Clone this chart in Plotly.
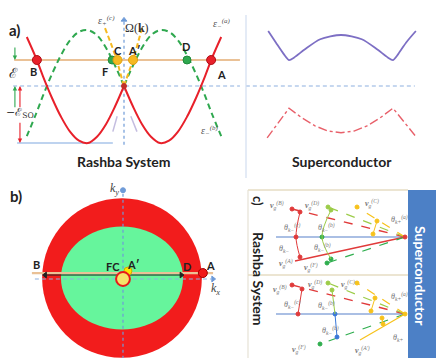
import plotly.graph_objects as go

W, H = 436, 358


def px(x):
    return x / W


def py(y):
    return 1 - y / H


# ---------------- a) Rashba bands (k in units of k0, energy in units of eps_SO) ----------------
K_HALF = [0, 0.25, 0.5, 0.75, 1.0, 1.25, 1.5, 1.75, 2.0, 2.25, 2.45, 2.7]
E_OUTER = [0, -0.36, -0.67, -0.89, -1.0, -0.96, -0.80, -0.54, -0.21, 0.17, 0.50, 0.86]
E_INNER = [0, 0.36, 0.67, 0.89, 0.98, 0.95, 0.80, 0.54, 0.21, -0.17, -0.50, -0.88]
K_C_LEFT = [0, -0.1, -0.2, -0.36, -0.53]
K_C_RIGHT = [0, 0.12, 0.25, 0.38, 0.5]
E_C = [0, 0.22, 0.456, 0.74, 1.02]
K_GHOST_L = [-0.19, -0.31]
K_GHOST_R = [0.19, 0.36]
E_GHOST = [-0.53, -0.80]
E_F = 0.456
E_SO = 1.0

FERMI_LABELS = ["B", "F", "C", "A′", "D", "A"]
FERMI_K = [-2.42, -0.33, -0.18, 0.25, 1.75, 2.42]
FERMI_COLORS = ["#e8202a", "#2fa84f", "#f6b921", "#f6b921", "#2fa84f", "#e8202a"]

# ---------------- superconductor quasiparticle branches ----------------
Q_SC = [-1.40, -1.25, -1.10, -1.0, -0.9, -0.7, -0.4, 0, 0.4, 0.7, 0.9, 1.0, 1.10, 1.25, 1.44]
E_SC_E = [0.965, 0.76, 0.56, 0.456, 0.50, 0.64, 0.82, 0.895, 0.82, 0.64, 0.50, 0.456, 0.56, 0.76, 0.965]
Q_SC_H = [-1.42, -1.0, -0.75, -0.5, -0.25, 0, 0.25, 0.5, 0.75, 1.0, 1.46]
E_SC_H = [-0.91, -0.39, -0.56, -0.70, -0.79, -0.82, -0.79, -0.70, -0.56, -0.39, -0.91]

# ---------------- b) Fermi contours ----------------
K_OUT = 2.42
K_IN_X, K_IN_Y = 1.85, 1.56
K_SMALL = 0.21
KY_LINE = 0.15

# ---------------- c) group velocities at the interface ----------------
ROW_V = [0, -77]  # vertical position of the two interface points
RAYS_UP = [  # (end u, end v, colour, dash, width)
    (-129, 0, "#8eaadb", "solid", 1.6),
    (-113, 28, "#e03a3a", "dash", 1.4),
    (-110, -24, "#e03a3a", "solid", 1.4),
    (-77, 30, "#9ccc48", "dash", 1.2),
    (-78, -26, "#2fae4e", "dash", 1.2),
    (-48, 30, "#f7c21b", "dash", 1.2),
]
RAYS_LOW = [
    (-129, 0, "#8eaadb", "solid", 1.6),
    (-113, 29, "#e03a3a", "dash", 1.4),
    (-77, 31, "#9ccc48", "dash", 1.2),
    (-48, 31, "#f7c21b", "dash", 1.2),
    (-85, -30, "#2fae4e", "dash", 1.2),
    (-45, -26, "#f7c21b", "solid", 1.2),
]
DOTS_UP = [
    (-113, 28, "#e03a3a"), (-105, 25, "#e03a3a"), (-109, 0, "#e03a3a"), (-105, -20, "#e03a3a"),
    (-77, 30, "#9ccc48"), (-74, 27, "#9ccc48"), (-83, 0, "#2fae4e"), (-78, -26, "#2fae4e"),
    (-74, -22, "#2fae4e"), (-48, 30, "#f7c21b"), (-28, 16, "#f7c21b"), (-32, 3, "#f7c21b"),
    (0, 0, "#e03a3a"),
]
DOTS_LOW = [
    (-113, 29, "#e03a3a"), (-103, 25, "#e03a3a"), (-107, 0, "#e03a3a"),
    (-77, 31, "#9ccc48"), (-73, 24, "#9ccc48"), (-48, 31, "#f7c21b"), (-30, 16, "#f7c21b"),
    (-34, 3, "#f7c21b"), (-70, 0, "#3a78d8"), (-68, -23, "#3a78d8"), (-85, -30, "#2fae4e"),
    (-23, -4, "#f7c21b"), (-22, -10, "#f7c21b"), (0, 0, "#f7c21b"),
]
ARCS = [  # short arcs between rays: (u list, v list, colour)
    ([-105, -109, -105], [25, 0, -20], "#e03a3a"),
    ([-74, -83, -74], [27, 0, -22], "#9ccc48"),
    ([-28, -32], [16, 3], "#f7c21b"),
    ([-103, -107], [-52, -77], "#e03a3a"),
    ([-73, -70], [-53, -77], "#9ccc48"),
    ([-30, -34], [-61, -74], "#f7c21b"),
    ([-70, -68], [-77, -100], "#3a78d8"),
    ([-23, -22], [-81, -87], "#f7c21b"),
]

fig = go.Figure()

RED, GREEN, YEL = "#e8202a", "#2fa84f", "#f6b921"
TAN, BLUE = "#eac196", "#8db0e0"


def line(x, y, color, width=2, dash="solid", shape="linear", ax="", smooth=1.0):
    fig.add_trace(go.Scatter(
        x=x, y=y, mode="lines", xaxis="x" + ax, yaxis="y" + ax,
        line=dict(color=color, width=width, dash=dash, shape=shape,
                  smoothing=smooth if shape == "spline" else None),
        hoverinfo="skip", showlegend=False))


def dots(x, y, color, size, ax="", symbol="circle", outline=None):
    fig.add_trace(go.Scatter(
        x=x, y=y, mode="markers", xaxis="x" + ax, yaxis="y" + ax,
        marker=dict(color=color, size=size, symbol=symbol,
                    line=dict(color=outline or color, width=1)),
        hoverinfo="skip", showlegend=False))


# ---- panel a ----
line([-3.08, 3.22], [0, 0], BLUE, 1.2, "4px,3px")
line([0, 0], [-1.03, 1.14], "#6f9bd8", 1.2, "3px,3px")
dots([0], [1.16], "#6f9bd8", 5, symbol="triangle-up")
line([-2.97, -0.31], [-E_SO, -E_SO], "#a9c4ea", 1.6)
line([-3.05, 3.22], [E_F, E_F], TAN, 2.2)

k_left = [-k for k in K_HALF]
line(k_left, E_INNER, GREEN, 2, "6px,4px", "spline")
line(K_HALF, E_INNER, GREEN, 2, "6px,4px", "spline")
line(K_C_LEFT, E_C, YEL, 2, "5px,3px", "spline")
line(K_C_RIGHT, E_C, YEL, 2, "5px,3px", "spline")
line(K_GHOST_L, E_GHOST, "#c4bde0", 1.5)
line(K_GHOST_R, E_GHOST, "#c4bde0", 1.5)
line(k_left, E_OUTER, RED, 2, shape="spline")
line(K_HALF, E_OUTER, RED, 2, shape="spline")
dots([0], [0], "#c0302a", 5)
OUTLINES = {"#e8202a": "#b01018", "#2fa84f": "#1e8a3a", "#f6b921": "#e0a010"}
for lab, k, c in zip(FERMI_LABELS, FERMI_K, FERMI_COLORS):
    dots([k], [E_F], c, 9 if c != GREEN else 8, outline=OUTLINES[c])

# ---- superconductor ----
line([-1.83, 1.42], [0, 0], BLUE, 1.2, "4px,3px", ax="2")
line(Q_SC, E_SC_E, "#7d6fc4", 1.8, shape="spline", ax="2", smooth=0.7)
line(Q_SC_H, E_SC_H, "#e8606a", 1.4, "dashdot", ax="2")

# ---- panel b ----
line([-2.73, 2.76], [KY_LINE, KY_LINE], TAN, 2.2, ax="3")
line([-2.64, 2.70], [-0.03, -0.03], BLUE, 1.2, "4px,3px", ax="3")
line([0.03, 0.03], [-2.45, 2.62], "#6f9bd8", 1.2, "3px,3px", ax="3")
dots([2.76], [-0.03], "#6f9bd8", 5, ax="3", symbol="triangle-right")
dots([0.03], [2.66], "#6f9bd8", 5, ax="3")
line([-2.33, 1.80], [0.09, 0.09], "#222222", 1.0, ax="3")
dots([-2.33], [0.09], "#222222", 5, ax="3", symbol="triangle-left")
dots([1.80], [0.09], "#222222", 5, ax="3", symbol="triangle-right")
dots([K_OUT + 0.03], [KY_LINE], "#f01818", 9, ax="3", outline="#a00000")
dots([0.18], [0.21], "#ffe600", 8, ax="3", outline="#d0a800")

# ---- panel c ----
for v0, rays in zip(ROW_V, [RAYS_UP, RAYS_LOW]):
    for u, v, c, d, w in rays:
        line([0, u], [v0, v0 + v], c, w, d, ax="4")
for v0, ds in zip(ROW_V, [DOTS_UP, DOTS_LOW]):
    dots([d[0] for d in ds], [v0 + d[1] for d in ds], [d[2] for d in ds], 4, ax="4")
for us, vs, c in ARCS:
    line(us, vs, c, 1.0, ax="4", shape="spline")

# ---------------- shapes ----------------
shapes = [
    # panel b Fermi contours
    dict(type="circle", xref="x3", yref="y3", x0=-K_OUT, x1=K_OUT, y0=-K_OUT, y1=K_OUT,
         fillcolor="#f21c1c", line=dict(width=0), layer="below"),
    dict(type="circle", xref="x3", yref="y3", x0=-K_IN_X, x1=K_IN_X, y0=-K_IN_Y, y1=K_IN_Y,
         fillcolor="#66f59c", line=dict(width=0), layer="below"),
    dict(type="circle", xref="x3", yref="y3", x0=-K_SMALL + 0.03, x1=K_SMALL + 0.03,
         y0=-K_SMALL - 0.03, y1=K_SMALL - 0.03,
         fillcolor="#f7e46a", line=dict(color="#e81a1a", width=2)),
    # dividers
    dict(type="line", xref="paper", yref="paper", x0=px(246), x1=px(246), y0=py(15), y1=py(178),
         line=dict(color="#d2def0", width=1.2)),
    dict(type="line", xref="paper", yref="paper", x0=px(248), x1=px(408), y0=py(190), y1=py(190),
         line=dict(color="#e6dcc3", width=1.4)),
    dict(type="line", xref="paper", yref="paper", x0=px(248), x1=px(248), y0=py(190), y1=py(358),
         line=dict(color="#e6e2d6", width=1.2)),
    dict(type="line", xref="paper", yref="paper", x0=px(248), x1=px(408), y0=py(275), y1=py(275),
         line=dict(color="#e6dcc3", width=1.4)),
    dict(type="rect", xref="paper", yref="paper", x0=px(408), x1=px(436), y0=py(358), y1=py(190),
         fillcolor="#4c80c6", line=dict(width=0)),
]

annotations = []


def text(t, x, y, size=11, color="#222222", bold=False, family="Lato", angle=0, italic=False):
    if bold:
        t = "<b>" + t + "</b>"
    if italic:
        t = "<i>" + t + "</i>"
    annotations.append(dict(text=t, x=px(x), y=py(y), xref="paper", yref="paper",
                            showarrow=False, xanchor="center", yanchor="middle",
                            textangle=angle, font=dict(size=size, color=color, family=family)))


# arrows beside the band diagram
for (x0, y0, x1, y1, c) in [(-3.03, 0.70, -3.03, E_F, "#2fa84f"),
                            (-3.03, -0.40, -3.03, 0.0, "#2fa84f"),
                            (-2.89, -0.40, -2.89, 0.0, "#e8202a"),
                            (-2.89, -0.62, -2.89, -E_SO, "#e8202a")]:
    annotations.append(dict(x=x1, y=y1, ax=x0, ay=y0, xref="x", yref="y", axref="x", ayref="y",
                            showarrow=True, arrowhead=2, arrowsize=0.8, arrowwidth=1.1,
                            arrowcolor=c, text=""))

SERIF = "DejaVu Serif"
text("a)", 14, 30, 15, bold=True)
text("ℰ", 13, 73, 14, "#333333", family=SERIF)
text("−ℰ<sub>SO</sub>", 20, 113, 11, "#333333", family=SERIF)
text("ε<sub>+</sub><sup>(c)</sup>", 106, 21, 10, "#555555", family="Liberation Serif", italic=True)
text("Ω(<b>k</b>)", 137, 28, 12, "#333333", family="Liberation Serif")
text("ε<sub>−</sub><sup>(a)</sup>", 222, 24, 10, "#555555", family="Liberation Serif", italic=True)
text("ε<sub>−</sub><sup>(b)</sup>", 210, 131, 10, "#555555", family="Liberation Serif", italic=True)
for t, x, y in [("B", 33, 71), ("A", 221, 75), ("F", 105, 71), ("C", 118, 50),
                ("A′", 134, 50), ("D", 186, 46)]:
    text(t, x, y, 11, bold=True)
text("Rashba System", 124, 161, 14, bold=True)
text("Superconductor", 342, 161, 14, bold=True)

text("b)", 16, 196, 15, bold=True)
text("<i>k<sub>y</sub></i>", 115, 189, 12, "#444444", family="Liberation Serif")
text("<i>k<sub>x</sub></i>", 215, 289, 12, "#444444", family="Liberation Serif")
for t, x, y in [("B", 36, 264), ("FC", 113, 266), ("A′", 133, 264), ("D", 187, 266), ("A", 210, 265)]:
    text(t, x, y, 11, bold=True)

text("c)", 258, 201, 13, bold=True, angle=90)
text("Rashba System", 259, 279, 14, bold=True, angle=90)
text("Superconductor", 421, 276, 14, "#ffffff", bold=True, angle=90)

C_LABELS = [
    ("<b>v</b><sub>g</sub><sup>(B)</sup>", 277, 205), ("<b>v</b><sub>g</sub><sup>(D)</sup>", 312, 205),
    ("<b>v</b><sub>g</sub><sup>(C)</sup>", 372, 203), ("θ<sub>k+</sub><sup>(a)</sup>", 399, 219),
    ("θ<sub>k−</sub><sup>(c)</sup>", 292, 227), ("θ<sub>k−</sub><sup>(b)</sup>", 326, 227),
    ("θ<sub>k−</sub>", 284, 249), ("θ<sub>k−</sub><sup>(b)</sup>", 322, 247),
    ("<b>v</b><sub>g</sub><sup>(A)</sup>", 286, 263), ("<b>v</b><sub>g</sub><sup>(F)</sup>", 311, 267),
    ("<b>v</b><sub>g</sub><sup>(B)</sup>", 280, 289), ("<b>v</b><sub>g</sub><sup>(D)</sup>", 315, 284),
    ("<b>v</b><sub>g</sub><sup>(C)</sup>", 348, 284), ("θ<sub>k+</sub><sup>(a)</sup>", 399, 296),
    ("θ<sub>k−</sub><sup>(c)</sup>", 292, 304), ("θ<sub>k−</sub><sup>(b)</sup>", 326, 305),
    ("θ<sub>k−</sub><sup>(b)</sup>", 330, 330), ("θ<sub>k+</sub>", 398, 338),
    ("<b>v</b><sub>g</sub><sup>(F)</sup>", 299, 349), ("<b>v</b><sub>g</sub><sup>(A′)</sup>", 362, 350),
]
for t, x, y in C_LABELS:
    text(t, x, y, 8, "#777777", family="Liberation Serif", italic=True)


def axis(dom, rng, anchor):
    return dict(domain=dom, range=rng, visible=False, fixedrange=True, anchor=anchor)


fig.update_layout(
    width=W, height=H, margin=dict(l=0, r=0, t=0, b=0),
    paper_bgcolor="white", plot_bgcolor="rgba(0,0,0,0)",
    xaxis=axis([0, px(240)], [-124 / 36, 116 / 36], "y"),
    yaxis=axis([py(180), 1], [-94 / 57, 86 / 57], "x"),
    xaxis2=axis([px(246), 1], [-95 / 52, 95 / 52], "y2"),
    yaxis2=axis([py(180), 1], [-94 / 57, 86 / 57], "x2"),
    xaxis3=axis([0, px(240)], [-122 / 33, 118 / 33], "y3"),
    yaxis3=axis([0, py(182)], [-80 / 33, 96 / 33], "x3"),
    xaxis4=axis([px(248), px(408)], [-157, 3], "y4"),
    yaxis4=axis([0, py(190)], [-121, 47], "x4"),
    shapes=shapes, annotations=annotations, showlegend=False,
)

fig.write_html("out.html")
